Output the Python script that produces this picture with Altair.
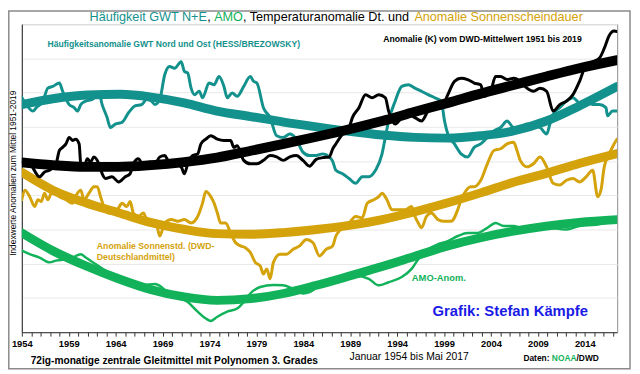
import altair as alt
import pandas as pd

# ---------------- data (year, index value; gridlines at integer steps) ----------------
teal_poly = [(1954.0, 6.65), (1957.3, 6.82), (1961.0, 6.93), (1964.5, 6.95), (1968.0, 6.86),
             (1971.3, 6.70), (1974.8, 6.46), (1978.4, 6.30), (1981.9, 6.14), (1985.4, 6.0),
             (1988.9, 5.87), (1992.4, 5.76), (1995.9, 5.69), (1999.4, 5.67), (2002.9, 5.74),
             (2006.4, 5.88), (2009.9, 6.17), (2013.4, 6.61), (2017.45, 7.18)]
teal_ma = [(1954.0, 6.86), (1954.49, 6.65), (1955.19, 6.46), (1955.54, 6.56), (1956.25, 6.75),
           (1956.77, 7.13), (1957.3, 7.18), (1958.0, 7.28), (1958.35, 7.04), (1959.05, 6.65),
           (1959.58, 6.56), (1959.93, 6.46), (1960.28, 6.65), (1960.81, 6.75), (1961.51, 6.80),
           (1962.21, 6.99), (1962.56, 6.65), (1963.09, 6.27), (1963.44, 5.98), (1963.96, 6.08),
           (1964.67, 6.13), (1965.37, 6.41), (1966.07, 6.61), (1966.77, 6.65), (1967.3, 6.80),
           (1967.82, 6.75), (1968.18, 6.65), (1968.7, 6.80), (1969.23, 7.52), (1969.75, 7.76),
           (1970.28, 7.71), (1970.98, 7.90), (1971.33, 7.62), (1971.68, 7.57), (1972.04, 7.13),
           (1972.39, 6.94), (1972.91, 7.04), (1973.26, 6.85), (1973.96, 7.28), (1974.49, 7.23),
           (1975.02, 7.47), (1975.54, 7.18), (1975.89, 6.85), (1976.42, 6.99), (1976.95, 6.89),
           (1977.65, 7.18), (1978.35, 7.47), (1978.7, 7.33), (1979.05, 7.28), (1979.75, 6.56),
           (1980.46, 6.27), (1981.16, 5.74), (1981.86, 5.69), (1982.56, 5.79), (1983.26, 5.64),
           (1983.96, 5.26), (1984.67, 5.16), (1985.37, 5.16), (1986.07, 5.21), (1986.77, 5.12),
           (1987.12, 5.0), (1987.47, 4.73), (1988.18, 4.63), (1988.88, 4.49), (1989.58, 4.35),
           (1990.28, 4.54), (1990.98, 4.54), (1991.69, 4.73), (1992.39, 5.21), (1992.74, 5.69),
           (1993.09, 6.17), (1993.79, 6.75), (1994.49, 7.18), (1995.19, 7.23), (1995.9, 7.13),
           (1996.6, 7.04), (1997.3, 6.94), (1998.0, 6.85), (1998.7, 6.75), (1999.05, 6.17),
           (1999.4, 5.79), (2000.11, 5.50), (2000.81, 5.21), (2001.51, 5.12), (2002.21, 5.40),
           (2002.91, 5.50), (2003.61, 5.69), (2004.32, 5.88), (2005.02, 5.98), (2005.72, 6.17),
           (2006.42, 5.98), (2007.12, 5.98), (2007.83, 6.08), (2008.53, 6.03), (2009.23, 5.98),
           (2009.93, 5.79), (2010.28, 6.08), (2010.63, 6.37), (2011.33, 6.56), (2012.04, 6.75),
           (2012.74, 6.85), (2013.44, 6.70), (2014.14, 6.75), (2014.84, 6.65), (2015.54, 6.65),
           (2016.25, 6.56), (2016.42, 6.32), (2016.95, 6.46), (2017.45, 6.46)]

black_poly = [(1954.0, 4.96), (1957.3, 4.88), (1960.8, 4.83), (1964.3, 4.83), (1967.8, 4.88),
              (1971.3, 4.97), (1974.8, 5.10), (1978.4, 5.30), (1981.9, 5.50), (1985.4, 5.71),
              (1988.9, 5.93), (1992.4, 6.17), (1995.9, 6.44), (1999.4, 6.70), (2002.9, 6.97),
              (2006.4, 7.22), (2009.9, 7.47), (2013.4, 7.71), (2017.45, 7.95)]
black_ma = [(1954.0, 4.97), (1954.84, 4.92), (1955.89, 4.54), (1956.42, 4.68), (1956.95, 4.73),
            (1957.65, 4.92), (1958.0, 5.31), (1958.35, 5.40), (1958.7, 5.50), (1959.05, 5.69),
            (1959.4, 5.60), (1959.75, 5.64), (1960.11, 5.50), (1960.28, 4.92), (1960.63, 4.83),
            (1960.98, 5.07), (1961.33, 4.97), (1961.68, 5.12), (1962.21, 4.92), (1962.56, 4.63),
            (1962.91, 4.49), (1963.61, 4.54), (1964.32, 4.39), (1965.02, 4.54), (1965.54, 4.63),
            (1965.89, 4.92), (1966.42, 5.07), (1966.95, 4.88), (1967.65, 4.97), (1968.18, 4.92),
            (1968.7, 5.12), (1969.23, 5.16), (1969.58, 5.02), (1970.28, 4.92), (1970.98, 4.83),
            (1971.33, 4.63), (1971.68, 4.92), (1972.21, 5.16), (1972.74, 5.21), (1973.09, 5.50),
            (1973.61, 5.64), (1974.14, 5.74), (1974.84, 5.64), (1975.54, 5.60), (1976.25, 5.60),
            (1976.6, 5.40), (1976.95, 5.45), (1977.65, 5.02), (1978.35, 4.92), (1979.05, 4.92),
            (1979.75, 5.02), (1980.46, 5.16), (1981.16, 5.12), (1981.86, 5.02), (1982.56, 5.12),
            (1983.26, 5.16), (1983.96, 5.02), (1984.67, 4.85), (1985.37, 5.05), (1986.07, 5.10),
            (1986.77, 5.12), (1987.12, 5.35), (1987.47, 5.50), (1988.18, 5.79), (1988.88, 5.98),
            (1989.23, 6.27), (1989.93, 6.56), (1990.63, 6.94), (1991.33, 6.85), (1992.04, 6.94),
            (1992.74, 6.85), (1993.09, 6.46), (1993.79, 6.08), (1994.49, 6.27), (1995.19, 6.37),
            (1995.9, 6.27), (1996.6, 6.17), (1997.3, 6.46), (1998.0, 6.56), (1998.7, 6.56),
            (1999.4, 6.94), (2000.11, 7.33), (2000.81, 7.42), (2001.51, 7.38), (2002.21, 7.28),
            (2002.91, 7.23), (2003.26, 6.89), (2003.96, 7.04), (2004.49, 7.47), (2005.02, 7.47),
            (2005.72, 7.38), (2006.42, 7.42), (2007.12, 7.33), (2007.83, 7.13), (2008.53, 7.04),
            (2009.23, 7.13), (2009.93, 7.04), (2010.63, 6.46), (2011.33, 6.65), (2012.04, 6.75),
            (2012.74, 6.94), (2013.44, 7.33), (2014.14, 7.81), (2014.84, 7.90), (2015.54, 8.00),
            (2016.07, 8.29), (2016.6, 8.67), (2017.12, 8.80), (2017.45, 8.78)]

gold_poly = [(1954.0, 4.67), (1957.3, 4.15), (1960.8, 3.78), (1964.3, 3.49), (1967.8, 3.20),
             (1971.4, 3.00), (1974.8, 2.88), (1978.3, 2.86), (1981.9, 2.91), (1985.4, 3.0),
             (1988.9, 3.12), (1992.4, 3.29), (1995.9, 3.52), (1999.4, 3.78), (2002.9, 4.07),
             (2006.4, 4.38), (2009.9, 4.64), (2013.4, 4.93), (2017.45, 5.22)]
gold_ma = [(1954.0, 3.87), (1954.32, 4.15), (1954.84, 3.96), (1955.37, 3.67), (1955.72, 3.87),
           (1956.07, 3.82), (1956.42, 4.06), (1956.77, 3.87), (1957.3, 4.15), (1958.0, 3.96),
           (1958.7, 3.87), (1959.4, 3.77), (1959.93, 4.06), (1960.28, 4.15), (1960.63, 3.87),
           (1961.16, 4.06), (1961.68, 4.25), (1962.04, 4.25), (1962.39, 3.96), (1962.74, 3.67),
           (1963.26, 3.48), (1963.96, 3.48), (1964.32, 3.63), (1964.67, 3.77), (1965.19, 3.67),
           (1965.54, 3.82), (1965.89, 3.48), (1966.42, 3.38), (1966.95, 3.48), (1967.3, 3.29),
           (1967.82, 3.19), (1968.35, 3.14), (1968.7, 2.81), (1969.23, 3.19), (1969.93, 3.29),
           (1970.63, 3.24), (1971.33, 3.29), (1972.04, 3.19), (1972.74, 3.38), (1973.26, 3.77),
           (1973.61, 4.11), (1974.14, 3.96), (1974.49, 3.77), (1974.84, 3.48), (1975.19, 3.19),
           (1975.72, 3.19), (1976.25, 2.90), (1976.77, 2.62), (1977.3, 2.52), (1977.82, 2.47),
           (1978.35, 2.33), (1978.88, 2.04), (1979.4, 1.94), (1979.75, 1.70), (1980.11, 1.85),
           (1980.46, 1.56), (1980.81, 2.04), (1981.51, 2.28), (1982.21, 2.28), (1982.91, 2.42),
           (1983.61, 2.52), (1984.32, 2.71), (1985.02, 2.62), (1985.72, 2.23), (1986.42, 2.42),
           (1987.12, 2.52), (1987.47, 2.81), (1988.0, 3.0), (1988.88, 3.19), (1989.58, 3.38),
           (1990.28, 3.34), (1990.81, 3.77), (1991.51, 3.87), (1992.04, 3.96), (1992.39, 4.06),
           (1992.91, 3.87), (1993.44, 3.58), (1994.14, 3.58), (1994.84, 3.58), (1995.54, 3.67),
           (1995.9, 3.38), (1996.25, 3.19), (1996.6, 3.05), (1997.12, 3.38), (1997.65, 3.48),
           (1998.35, 3.29), (1999.05, 3.24), (1999.75, 3.24), (2000.46, 3.58), (2000.81, 3.87),
           (2001.16, 4.06), (2001.86, 4.25), (2002.21, 4.25), (2002.91, 4.44), (2003.61, 4.92),
           (2004.32, 5.31), (2005.02, 5.36), (2005.72, 5.50), (2006.42, 5.55), (2006.77, 5.31),
           (2007.12, 5.02), (2007.83, 4.83), (2008.53, 4.92), (2009.23, 5.12), (2009.93, 4.83),
           (2010.63, 4.35), (2011.33, 4.30), (2012.04, 4.44), (2012.74, 4.49), (2013.44, 4.39),
           (2014.14, 4.54), (2014.84, 4.73), (2015.37, 3.96), (2015.72, 4.15), (2016.07, 4.83),
           (2016.42, 5.12), (2016.77, 5.31), (2017.12, 5.50), (2017.45, 5.64)]

green_poly = [(1954.0, 2.90), (1957.3, 2.38), (1960.8, 1.94), (1964.3, 1.56), (1967.8, 1.24),
              (1971.3, 1.03), (1974.8, 0.93), (1978.4, 0.98), (1981.9, 1.13), (1985.4, 1.37),
              (1988.9, 1.64), (1992.4, 1.92), (1995.9, 2.22), (1999.4, 2.52), (2002.9, 2.76),
              (2006.4, 2.95), (2009.9, 3.10), (2013.4, 3.21), (2017.45, 3.29)]
green_ma = [(1954.0, 2.38), (1954.84, 2.28), (1955.89, 2.18), (1956.95, 2.04), (1957.65, 2.09),
            (1958.7, 2.13), (1959.4, 2.18), (1960.28, 2.28), (1960.81, 2.18), (1961.86, 1.99),
            (1962.91, 1.80), (1963.96, 1.65), (1965.02, 1.51), (1966.07, 1.37), (1967.12, 1.38),
            (1968.18, 1.41), (1968.88, 1.32), (1969.58, 1.13), (1970.63, 1.03), (1971.68, 0.88),
            (1972.74, 0.60), (1973.61, 0.40), (1974.14, 0.33), (1974.84, 0.45), (1975.89, 0.60),
            (1976.95, 0.69), (1977.65, 0.88), (1978.35, 1.13), (1979.4, 1.32), (1980.81, 1.38),
            (1981.86, 1.37), (1982.91, 1.27), (1983.96, 1.13), (1984.67, 1.17), (1985.72, 1.37),
            (1987.47, 1.51), (1988.2, 1.56), (1989.58, 1.65), (1990.98, 1.56), (1992.04, 1.37),
            (1993.09, 1.46), (1994.49, 1.61), (1995.54, 1.85), (1996.25, 2.13), (1997.3, 2.42),
            (1998.35, 2.57), (1999.4, 2.66), (2000.46, 2.81), (2001.51, 2.90), (2002.56, 2.90),
            (2003.61, 3.05), (2004.49, 3.19), (2005.37, 3.10), (2006.42, 3.10), (2007.83, 3.00),
            (2009.93, 3.05), (2012.04, 3.00), (2013.44, 3.10), (2015.19, 3.14), (2017.45, 3.29)]

x_domain = [1954, 2017.45]
y_domain = [0, 9]
tick_years = list(range(1954, 2018))
grid_values = list(range(0, 10))

title_parts = ["Häufigkeit GWT N+E", ", ", "AMO", ", Temperaturanomalie Dt. und ", "Anomalie Sonnenscheindauer"]
y_title = "Indexwerte Anomalien zum Mittel 1951-2019"
label_teal = "Häufigkeitsanomalie GWT Nord und Ost (HESS/BREZOWSKY)"
label_black = "Anomalie (K) vom DWD-Mittelwert 1951 bis 2019"
label_gold = ["Anomalie Sonnenstd. (DWD-", "Deutschlandmittel)"]
label_green = "AMO-Anom."
label_author = "Grafik: Stefan Kämpfe"
footer_left = "72ig-monatige zentrale Gleitmittel mit Polynomen 3. Grades"
footer_mid = "Januar 1954 bis Mai 2017"
footer_src = ["Daten: ", "NOAA", "/DWD"]

TEAL = "#13918d"
GOLD = "#d4a20a"
GREEN = "#12b25a"
BLACK = "#000000"
BLUE = "#1a1ae6"
FONT = "Liberation Sans"

# ---------------- chart ----------------
xs = alt.Scale(domain=x_domain, nice=False, zero=False)
ys = alt.Scale(domain=y_domain, nice=False, zero=False)
x_axis = alt.Axis(values=tick_years, labelExpr="(datum.value - 1954) % 5 == 0 ? datum.value : ''",
                  format="d", title=None, grid=False, tickSize=4, tickColor="#333333",
                  domainColor="#333333", labelFontSize=9.5, labelFontWeight="bold", labelFont=FONT,
                  labelColor="#000000", labelPadding=2, labelOverlap=False, labelFlush=False)
y_axis = alt.Axis(values=grid_values, labels=False, ticks=False, title=None, grid=True,
                  gridColor="#e8e8e8", gridWidth=1, domainColor="#333333")


def series(points, color, width):
    df = pd.DataFrame(points, columns=["year", "v"])
    return alt.Chart(df).mark_line(color=color, strokeWidth=width, interpolate="monotone",
                                   strokeCap="round", strokeJoin="round", clip=True).encode(
        x=alt.X("year:Q", scale=xs, axis=x_axis),
        y=alt.Y("v:Q", scale=ys, axis=y_axis),
    )


def text(s, x, y, color="#000000", size=9, weight="bold", align="left", angle=0):
    return alt.Chart(pd.DataFrame({"t": [s]})).mark_text(
        color=color, fontSize=size, fontWeight=weight, font=FONT, align=align,
        baseline="middle", angle=angle).encode(text="t:N", x=alt.value(x), y=alt.value(y))


# outer picture frame (as far out as the page allows)
frame = alt.Chart(pd.DataFrame({"k": [0]})).mark_rect(
    fill=None, stroke="#8a8a8a", strokeWidth=1.5).encode(
    x=alt.value(-13.2), x2=alt.value(616), y=alt.value(-13.2), y2=alt.value(349))

layers = [
    frame,
    series(teal_poly, TEAL, 9),
    series(teal_ma, TEAL, 3),
    series(gold_poly, GOLD, 9),
    series(gold_ma, GOLD, 3),
    series(green_poly, GREEN, 9),
    series(green_ma, GREEN, 2.5),
    series(black_poly, BLACK, 10),
    series(black_ma, BLACK, 3),
]

# title pieces
tx = [68.6, 187.7, 194.8, 224.0, 397.6]
tc = [TEAL, BLACK, GREEN, BLACK, GOLD]
for s, x, c in zip(title_parts, tx, tc):
    layers.append(text(s, x, -7, color=c, size=12.8, weight="normal"))

layers += [
    text(y_title, -9, 151, size=8.5, weight="normal", align="center", angle=270),
    text(label_teal, 26, 20, color=TEAL, size=8.7),
    text(label_black, 366, 15, color=BLACK, size=8.8),
    text(label_gold[0], 76, 225, color=GOLD, size=8.8),
    text(label_gold[1], 76, 236, color=GOLD, size=8.8),
    text(label_green, 395, 257, color=GREEN, size=9.5),
    text(label_author, 416, 291, color=BLUE, size=15),
    text(footer_left, 9, 341, size=10.3),
    text(footer_mid, 332, 337, size=10.5, weight="normal"),
    text(footer_src[0], 508, 338, size=8.5),
    text(footer_src[1], 536.8, 338, color=GREEN, size=8.5),
    text(footer_src[2], 561.8, 338, size=8.5),
]

chart = alt.layer(*layers).properties(
    width=603, height=312, autosize="none",
    padding={"left": 14, "top": 14, "right": 15, "bottom": 40},
    background="white",
).configure_view(stroke="#8c8c8c", strokeWidth=1)

chart.save("out.html", embed_options={"renderer": "svg", "actions": False})
